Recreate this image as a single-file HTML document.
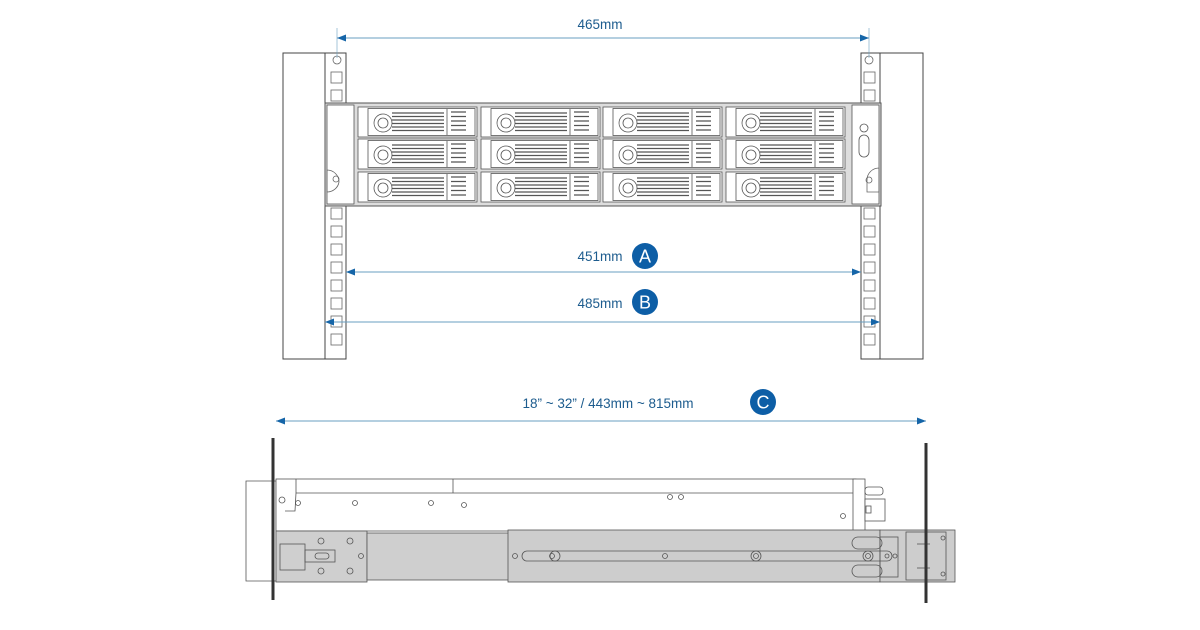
<!DOCTYPE html>
<html><head><meta charset="utf-8"><style>
html,body{margin:0;padding:0;background:#fff;width:1200px;height:630px;overflow:hidden}
svg{display:block}
text{font-family:"Liberation Sans",Arial,sans-serif}
</style></head><body>
<svg width="1200" height="630" viewBox="0 0 1200 630" xmlns="http://www.w3.org/2000/svg">
<defs>
<g id="tray" fill="none" stroke="#555" stroke-width="0.8">
<rect x="0" y="0" width="119" height="30" fill="#fff"/>
<rect x="10" y="1.5" width="107" height="27"/>
<circle cx="25" cy="16" r="9"/><circle cx="25" cy="16" r="5"/>
<path d="M34 6h52M34 9.5h52M34 13h52M34 16.5h52M34 20h52M34 23.5h52" stroke-width="1.2"/>
<line x1="89" y1="2" x2="89" y2="28"/>
<path d="M93 5h15M93 9.5h15M93 14h15M93 18.5h15M93 23h15" stroke-width="1.3"/>
</g>
<marker id="ar" markerWidth="9" markerHeight="7" refX="9" refY="3.5" orient="auto-start-reverse" markerUnits="userSpaceOnUse"><path d="M0,0 L9,3.5 L0,7z" fill="#1565a8"/></marker>
<g id="hole"><rect x="0" y="0" width="11" height="11" fill="#fff" stroke="#666" stroke-width="0.8"/></g>
</defs>

<rect x="283" y="53" width="42" height="306" fill="#fff" stroke="#444" stroke-width="1"/>
<rect x="325" y="53" width="21" height="306" fill="#fff" stroke="#444" stroke-width="1"/>
<rect x="880" y="53" width="43" height="306" fill="#fff" stroke="#444" stroke-width="1"/>
<rect x="861" y="53" width="19" height="306" fill="#fff" stroke="#444" stroke-width="1"/>
<g>
<circle cx="337" cy="60" r="4" fill="none" stroke="#666" stroke-width="0.8"/>
<circle cx="869" cy="60" r="4" fill="none" stroke="#666" stroke-width="0.8"/>
<use href="#hole" x="331" y="72"/><use href="#hole" x="331" y="90"/>
<use href="#hole" x="331" y="208"/><use href="#hole" x="331" y="226"/><use href="#hole" x="331" y="244"/><use href="#hole" x="331" y="262"/><use href="#hole" x="331" y="280"/><use href="#hole" x="331" y="298"/><use href="#hole" x="331" y="316"/><use href="#hole" x="331" y="334"/>
<use href="#hole" x="864" y="72"/><use href="#hole" x="864" y="90"/>
<use href="#hole" x="864" y="208"/><use href="#hole" x="864" y="226"/><use href="#hole" x="864" y="244"/><use href="#hole" x="864" y="262"/><use href="#hole" x="864" y="280"/><use href="#hole" x="864" y="298"/><use href="#hole" x="864" y="316"/><use href="#hole" x="864" y="334"/>
</g>
<rect x="325" y="103" width="556" height="103" fill="#ddd" stroke="#555" stroke-width="1"/>
<rect x="327" y="105" width="27" height="99" fill="#fff" stroke="#555" stroke-width="0.8"/>
<path d="M327 170 a12 12 0 0 1 12 12 v0 a12 12 0 0 1 -12 10z" fill="none" stroke="#666" stroke-width="0.8"/>
<circle cx="336" cy="179" r="3" fill="none" stroke="#666" stroke-width="0.8"/>
<rect x="852" y="105" width="27" height="99" fill="#fff" stroke="#555" stroke-width="0.8"/>
<circle cx="864" cy="128" r="4" fill="none" stroke="#555" stroke-width="0.8"/>
<rect x="859" y="135" width="10" height="22" rx="5" fill="none" stroke="#555" stroke-width="0.8"/>
<path d="M879 168 a12 12 0 0 0 -12 12 v12 h12z" fill="none" stroke="#666" stroke-width="0.8"/>
<circle cx="869" cy="180" r="3" fill="none" stroke="#666" stroke-width="0.8"/>
<use href="#tray" x="358" y="107"/><use href="#tray" x="481" y="107"/><use href="#tray" x="603" y="107"/><use href="#tray" x="726" y="107"/>
<use href="#tray" x="358" y="139"/><use href="#tray" x="481" y="139"/><use href="#tray" x="603" y="139"/><use href="#tray" x="726" y="139"/>
<use href="#tray" x="358" y="172"/><use href="#tray" x="481" y="172"/><use href="#tray" x="603" y="172"/><use href="#tray" x="726" y="172"/>

<g stroke="#6a9fc0" stroke-width="1">
<line x1="337" y1="38" x2="869" y2="38" marker-start="url(#ar)" marker-end="url(#ar)"/>
<line x1="337" y1="28" x2="337" y2="58" stroke-width="0.6"/>
<line x1="869" y1="28" x2="869" y2="58" stroke-width="0.6"/>
<line x1="346" y1="272" x2="861" y2="272" marker-start="url(#ar)" marker-end="url(#ar)"/>
<line x1="325" y1="322" x2="880" y2="322" marker-start="url(#ar)" marker-end="url(#ar)"/>
<line x1="276" y1="421" x2="926" y2="421" marker-start="url(#ar)" marker-end="url(#ar)"/>
</g>
<g fill="#1d5c8e" font-size="13.5">
<text x="600" y="29" text-anchor="middle">465mm</text>
<text x="600" y="261" text-anchor="middle">451mm</text>
<text x="600" y="308" text-anchor="middle">485mm</text>
<text x="608" y="408" text-anchor="middle">18” ~ 32”  /  443mm ~ 815mm</text>
</g>
<g font-size="18" fill="#fff" text-anchor="middle">
<circle cx="645" cy="256" r="13" fill="#0d5ea6"/><text x="645" y="262.5">A</text>
<circle cx="645" cy="302" r="13" fill="#0d5ea6"/><text x="645" y="308.5">B</text>
<circle cx="763" cy="402" r="13" fill="#0d5ea6"/><text x="763" y="408.5">C</text>
</g>

<g stroke="#555" stroke-width="0.8" fill="none">
<path d="M246 481 h30 v100 h-30 z" fill="#fff"/>
<rect x="276" y="479" width="580" height="52" fill="#fff"/>
<line x1="296" y1="493" x2="856" y2="493"/>
<line x1="453" y1="479" x2="453" y2="493"/>
<path d="M296 479 v14 l-1 18 h-10" />
<circle cx="282" cy="500" r="3"/><circle cx="298" cy="503" r="2.5"/><circle cx="355" cy="503" r="2.5"/><circle cx="431" cy="503" r="2.5"/><circle cx="464" cy="505" r="2.5"/>
<circle cx="670" cy="497" r="2.5"/><circle cx="681" cy="497" r="2.5"/><circle cx="843" cy="516" r="2.5"/>
<rect x="853" y="479" width="12" height="52" fill="#fff"/>
<rect x="865" y="487" width="18" height="8" rx="3" fill="#fff"/>
<rect x="865" y="499" width="20" height="22" fill="#fff"/>
<rect x="866" y="506" width="5" height="7"/>
<rect x="276" y="531" width="91" height="51" fill="#cfcfcf"/>
<rect x="367" y="533" width="142" height="47" fill="#cfcfcf"/>
<rect x="508" y="530" width="372" height="52" fill="#cdcdcd"/>
<rect x="880" y="530" width="75" height="52" fill="#cdcdcd"/>
<rect x="522" y="551" width="370" height="10" rx="5"/>
<circle cx="515" cy="556" r="2.5"/><circle cx="552" cy="556" r="2.5"/><circle cx="665" cy="556" r="2.5"/>
<circle cx="756" cy="556" r="5"/><circle cx="756" cy="556" r="2.5"/>
<circle cx="555" cy="556" r="5"/><circle cx="868" cy="556" r="5"/><circle cx="868" cy="556" r="2.5"/>
<rect x="852" y="537" width="30" height="12" rx="6"/><rect x="852" y="565" width="30" height="12" rx="6"/>
<circle cx="321" cy="541" r="3"/><circle cx="350" cy="541" r="3"/><circle cx="321" cy="571" r="3"/><circle cx="350" cy="571" r="3"/><circle cx="361" cy="556" r="2.5"/>
<rect x="305" y="550" width="30" height="12"/><rect x="315" y="553" width="14" height="6" rx="3"/>
<rect x="280" y="544" width="25" height="26"/>
<rect x="880" y="537" width="18" height="40"/>
<rect x="906" y="532" width="40" height="48"/>
<circle cx="943" cy="538" r="2"/><circle cx="943" cy="574" r="2"/>
<circle cx="887" cy="556" r="2"/><circle cx="895" cy="556" r="2"/>
<line x1="917" y1="544" x2="930" y2="544"/><line x1="917" y1="568" x2="930" y2="568"/>
</g>
<line x1="273" y1="438" x2="273" y2="600" stroke="#333" stroke-width="3"/>
<line x1="926" y1="443" x2="926" y2="603" stroke="#333" stroke-width="3"/>
</svg>
</body></html>
